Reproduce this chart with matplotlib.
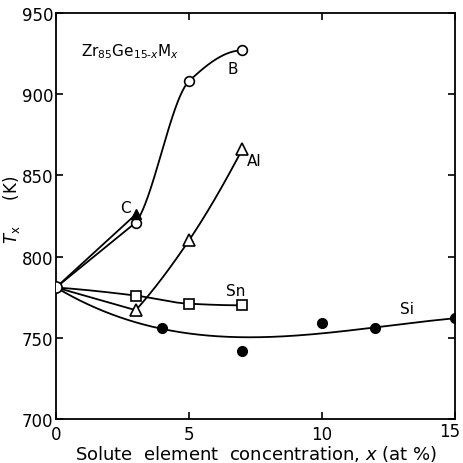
import matplotlib
matplotlib.use("Agg")
import matplotlib.pyplot as plt
import matplotlib.transforms as mtransforms
import numpy as np

# data (x in at%, Tx in K)
x0 = 0
t0 = 781

b_x = [0, 3, 5, 7]
b_t = [781, 821, 908, 927]

c_x = [0, 3]
c_t = [781, 826]

al_x = [0, 3, 5, 7]
al_t = [781, 767, 810, 866]

sn_x = [0, 3, 5, 7]
sn_t = [781, 776, 771, 770]

si_x = [4, 7, 10, 12, 15]
si_t = [756, 742, 759, 756, 762]


def pchip(x, y, xs):
    x = np.asarray(x, float)
    y = np.asarray(y, float)
    h = np.diff(x)
    d = np.diff(y) / h
    n = len(x)
    m = np.zeros(n)
    for k in range(1, n - 1):
        if d[k - 1] * d[k] > 0:
            w1 = 2 * h[k] + h[k - 1]
            w2 = h[k] + 2 * h[k - 1]
            m[k] = (w1 + w2) / (w1 / d[k - 1] + w2 / d[k])
    def end(h0, h1, d0, d1):
        s = ((2 * h0 + h1) * d0 - h0 * d1) / (h0 + h1)
        if np.sign(s) != np.sign(d0):
            s = 0.0
        elif np.sign(d0) != np.sign(d1) and abs(s) > abs(3 * d0):
            s = 3 * d0
        return s
    if n > 2:
        m[0] = end(h[0], h[1], d[0], d[1])
        m[-1] = end(h[-1], h[-2], d[-1], d[-2])
    else:
        m[:] = d[0]
    xs = np.asarray(xs, float)
    i = np.clip(np.searchsorted(x, xs) - 1, 0, n - 2)
    t = (xs - x[i]) / h[i]
    h00 = 2 * t**3 - 3 * t**2 + 1
    h10 = t**3 - 2 * t**2 + t
    h01 = -2 * t**3 + 3 * t**2
    h11 = t**3 - t**2
    return h00 * y[i] + h10 * h[i] * m[i] + h01 * y[i + 1] + h11 * h[i] * m[i + 1]


plt.rcParams['font.family'] = 'DejaVu Sans'
fig = plt.figure(figsize=(4.64, 4.64), dpi=100)
ax = fig.add_axes([0.1207, 0.0948, 0.8599, 0.875])

lw = 1.3
# B : straight to first point, then smooth
ax.plot(b_x[:2], b_t[:2], 'k-', lw=lw)
xs = np.linspace(3, 7, 150)
ax.plot(xs, pchip(b_x, b_t, xs), 'k-', lw=lw)
ax.plot(b_x, b_t, 'o', mfc='white', mec='k', ms=7, mew=1.2)
# C
ax.plot(c_x, c_t, 'k-', lw=lw)
ax.plot(c_x[1:], c_t[1:], '^', color='k', ms=7)
# Al
ax.plot(al_x[:2], al_t[:2], 'k-', lw=lw)
xs = np.linspace(3, 7, 150)
ax.plot(xs, pchip(al_x[1:], al_t[1:], xs), 'k-', lw=lw)
ax.plot(al_x[1:], al_t[1:], '^', mfc='white', mec='k', ms=8, mew=1.2)
# Sn
xs = np.linspace(0, 7, 200)
ax.plot(xs, pchip(sn_x, sn_t, xs), 'k-', lw=lw)
ax.plot(sn_x[1:], sn_t[1:], 's', mfc='white', mec='k', ms=7, mew=1.2)
# Si (smooth weighted fit)
fx = [x0] + si_x
ft = [t0] + si_t
coef = np.polyfit(fx, ft, 3, w=[5, 3, 1, 1, 2, 3])
xs = np.linspace(0, 15, 300)
ax.plot(xs, np.polyval(coef, xs), 'k-', lw=lw)
ax.plot(si_x, si_t, 'o', color='k', ms=7)
# common origin
ax.plot([x0], [t0], 'o', mfc='white', mec='k', ms=8, mew=1.2, zorder=5)

ax.text(6.65, 916, 'B', fontsize=11, ha='center', va='center')
ax.text(2.6, 830, 'C', fontsize=11, ha='center', va='center')
ax.text(7.45, 859, 'Al', fontsize=11, ha='center', va='center')
ax.text(6.77, 779, 'Sn', fontsize=11, ha='center', va='center')
ax.text(13.2, 768, 'Si', fontsize=11, ha='center', va='center')
ax.text(0.95, 927, r'Zr$_{85}$Ge$_{15\text{-}x}$M$_{x}$', fontsize=11, ha='left', va='center')

ax.set_xlim(0, 15)
ax.set_ylim(700, 950)
ax.set_xticks([0, 5, 10, 15])
ax.set_yticks([700, 750, 800, 850, 900, 950])
ax.tick_params(direction='in', top=True, right=True, length=5, width=1.2,
               labelsize=12, pad=2)
ax.tick_params(axis='x', pad=4)
for s in ax.spines.values():
    s.set_linewidth(1.3)
# nudge last x tick label inside the figure
lab = ax.get_xticklabels()[-1]
lab.set_transform(lab.get_transform() + mtransforms.ScaledTranslation(-5/100, 3/100, fig.dpi_scale_trans))

ax.set_xlabel(r'Solute  element  concentration, $x$ (at %)', fontsize=13, labelpad=0)
ax.set_ylabel(r'$T_{\rm x}$     (K)', fontsize=12)
ax.yaxis.set_label_coords(-0.085, 0.517)

fig.savefig('out.png', dpi=100)
